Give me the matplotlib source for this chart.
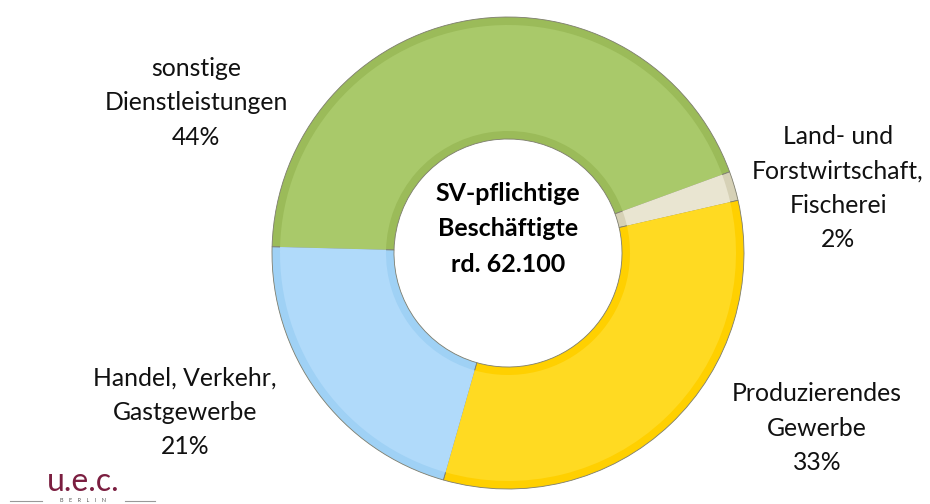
import matplotlib.pyplot as plt
import numpy as np

# data
sectors = ["sonstige\nDienstleistungen", "Land- und\nForstwirtschaft,\nFischerei",
           "Produzierendes\nGewerbe", "Handel, Verkehr,\nGastgewerbe"]
shares = [44, 2, 33, 21]
colors = ["#9bbb59", "#d6d1b6", "#ffd000", "#9fd1f5"]
highlight = ["#a9c96a", "#e9e5d1", "#ffda22", "#b0dafa"]
center_lines = ["SV-pflichtige", "Beschäftigte", "rd. 62.100"]

W, H = 930, 504
fig = plt.figure(figsize=(W / 100, H / 100), dpi=100)
ax = fig.add_axes([0, 0, 1, 1])

cx, cy = 508, H - 253
r_out, ring = 236, 122

ax.pie(shares, colors=colors, startangle=178.5, counterclock=False,
       center=(cx, cy), radius=r_out, frame=True,
       wedgeprops=dict(width=ring, edgecolor="#7d7d6d", linewidth=0.6))
# bevel look: lighter inner band
ax.pie(shares, colors=highlight, startangle=178.5, counterclock=False,
       center=(cx, cy), radius=r_out - 8, frame=True,
       wedgeprops=dict(width=ring - 16, linewidth=0))
ax.set_xlim(0, W)
ax.set_ylim(0, H)
ax.set_aspect("equal")
ax.axis("off")

font = "Lato"
label_pos = [(196, H - 103), (838, H - 188), (817, H - 428), (185, H - 412)]
texts = [sectors[i] + "\n%d%%" % shares[i] for i in range(4)]
for (x, y), t in zip(label_pos, texts):
    ax.text(x, y, t, ha="center", va="center", fontsize=17.8, family=font,
            linespacing=1.6, color="#111111")

ax.text(cx, H - 229, "\n".join(center_lines), ha="center", va="center",
        fontsize=18, family=font, fontweight="bold", linespacing=1.65)

# logo
ax.text(83, H - 482, "u.e.c.", ha="center", va="center", fontsize=23,
        family=font, color="#7b1e40")
ax.plot([10, 42], [H - 501, H - 501], color="#999999", lw=0.8)
ax.plot([125, 155], [H - 501, H - 501], color="#999999", lw=0.8)
ax.text(83, H - 501, "B    E    R    L    I    N", ha="center", va="center",
        fontsize=4, family=font, color="#555555")

fig.savefig("out.png", dpi=100)
